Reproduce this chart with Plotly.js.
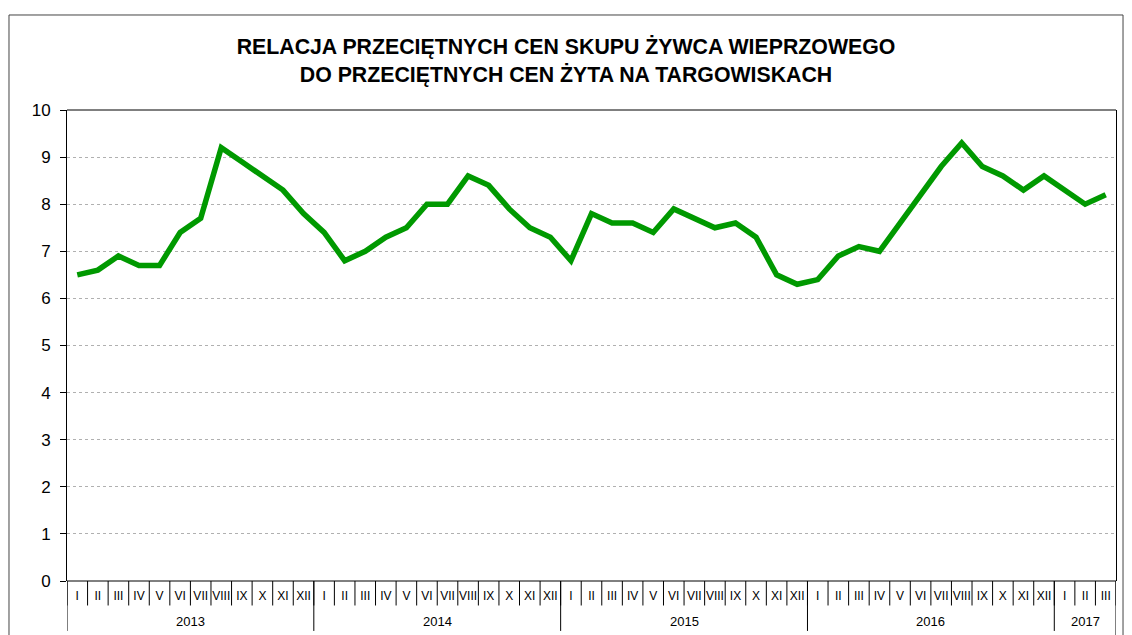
<!DOCTYPE html>
<html>
<head>
<meta charset="utf-8">
<script src="https://cdn.plot.ly/plotly-3.0.1.min.js"></script>
<style>
html,body{margin:0;padding:0;background:#fff;}
#chart{width:1132px;height:635px;}
</style>
</head>
<body>
<div id="chart"></div>
<script>
const years = [2013, 2014, 2015, 2016, 2017];
const monthsPerYear = [12, 12, 12, 12, 3];
const monthLabels = ["I","II","III","IV","V","VI","VII","VIII","IX","X","XI","XII"];
const values2013 = [6.5, 6.6, 6.9, 6.7, 6.7, 7.4, 7.7, 9.2, 8.9, 8.6, 8.3, 7.8];
const values2014 = [7.4, 6.8, 7.0, 7.3, 7.5, 8.0, 8.0, 8.6, 8.4, 7.9, 7.5, 7.3];
const values2015 = [6.8, 7.8, 7.6, 7.6, 7.4, 7.9, 7.7, 7.5, 7.6, 7.3, 6.5, 6.3];
const values2016 = [6.4, 6.9, 7.1, 7.0, 7.6, 8.2, 8.8, 9.3, 8.8, 8.6, 8.3, 8.6];
const values2017 = [8.3, 8.0, 8.2];
const yTicks = [0,1,2,3,4,5,6,7,8,9,10];
const titleText = "RELACJA PRZECIĘTNYCH CEN SKUPU ŻYWCA WIEPRZOWEGO<br>DO PRZECIĘTNYCH CEN ŻYTA NA TARGOWISKACH";

const allValues = [].concat(values2013, values2014, values2015, values2016, values2017);
const xIdx = allValues.map((v, i) => i);
const tickText = [];
monthsPerYear.forEach(n => { for (let m = 0; m < n; m++) tickText.push(monthLabels[m]); });

const shapes = [];
const annotations = [];
const N = allValues.length;
for (let i = 0; i <= N; i++) {
  shapes.push({type:'line', xref:'x', yref:'paper', x0:i-0.5, x1:i-0.5, y0:0, y1:-0.052,
    line:{color:'#000', width:1}});
}
let start = 0;
years.forEach((yr, k) => {
  const n = monthsPerYear[k];
  shapes.push({type:'line', xref:'x', yref:'paper', x0:start-0.5, x1:start-0.5, y0:0, y1:-0.106,
    line:{color:'#000', width:1}});
  annotations.push({xref:'x', yref:'paper', x:start + (n-1)/2, y:-0.085, text:String(yr),
    showarrow:false, yanchor:'middle', xanchor:'center',
    font:{family:'Liberation Sans, Arial, sans-serif', size:13, color:'#000'}});
  start += n;
});
shapes.push({type:'line', xref:'x', yref:'paper', x0:N-0.5, x1:N-0.5, y0:0, y1:-0.2,
  line:{color:'#000', width:1}});
shapes.push({type:'rect', xref:'paper', yref:'paper', x0:-0.0553, x1:1.0067, y0:-0.3, y1:1.2017,
  line:{color:'#444', width:1}, fillcolor:'rgba(0,0,0,0)'});
shapes.push({type:'line', xref:'paper', yref:'paper', x0:0, x1:1, y0:0, y1:0, line:{color:'#000', width:1}});
shapes.push({type:'line', xref:'paper', yref:'paper', x0:0, x1:1, y0:1, y1:1, line:{color:'#000', width:1}});

const trace = {
  x: xIdx, y: allValues, type:'scatter', mode:'lines',
  line:{color:'#009900', width:5.5, shape:'linear'},
  hoverinfo:'skip'
};

const layout = {
  width:1132, height:635,
  margin:{l:67, r:16, t:110, b:54},
  paper_bgcolor:'#fff', plot_bgcolor:'#fff',
  showlegend:false,
  title:{text:titleText, x:0.5, xanchor:'center', y:0.915, yanchor:'middle',
    font:{family:'Liberation Sans, Arial, sans-serif', size:21.3, color:'#000', weight:'bold'}},
  xaxis:{
    range:[-0.5, N-0.5], tickmode:'array', tickvals:xIdx, ticktext:tickText,
    ticks:'', showgrid:false, zeroline:false, showline:false,
    tickangle:0, ticklabelstandoff:6,
    tickfont:{family:'Liberation Sans, Arial, sans-serif', size:12, color:'#000'},
    fixedrange:true
  },
  yaxis:{
    range:[0,10], tickmode:'array', tickvals:yTicks,
    ticks:'outside', ticklen:6, tickcolor:'#000', tickwidth:1,
    showgrid:true, gridcolor:'#b0b0b0', griddash:'dot', gridwidth:1,
    showline:true, linecolor:'#000', linewidth:1, mirror:true,
    zeroline:false,
    tickfont:{family:'Liberation Sans, Arial, sans-serif', size:17, color:'#000'},
    ticklabelstandoff:6,
    fixedrange:true
  },
  shapes:shapes,
  annotations:annotations
};

Plotly.newPlot('chart', [trace], layout, {displayModeBar:false, staticPlot:true});
</script>
</body>
</html>
